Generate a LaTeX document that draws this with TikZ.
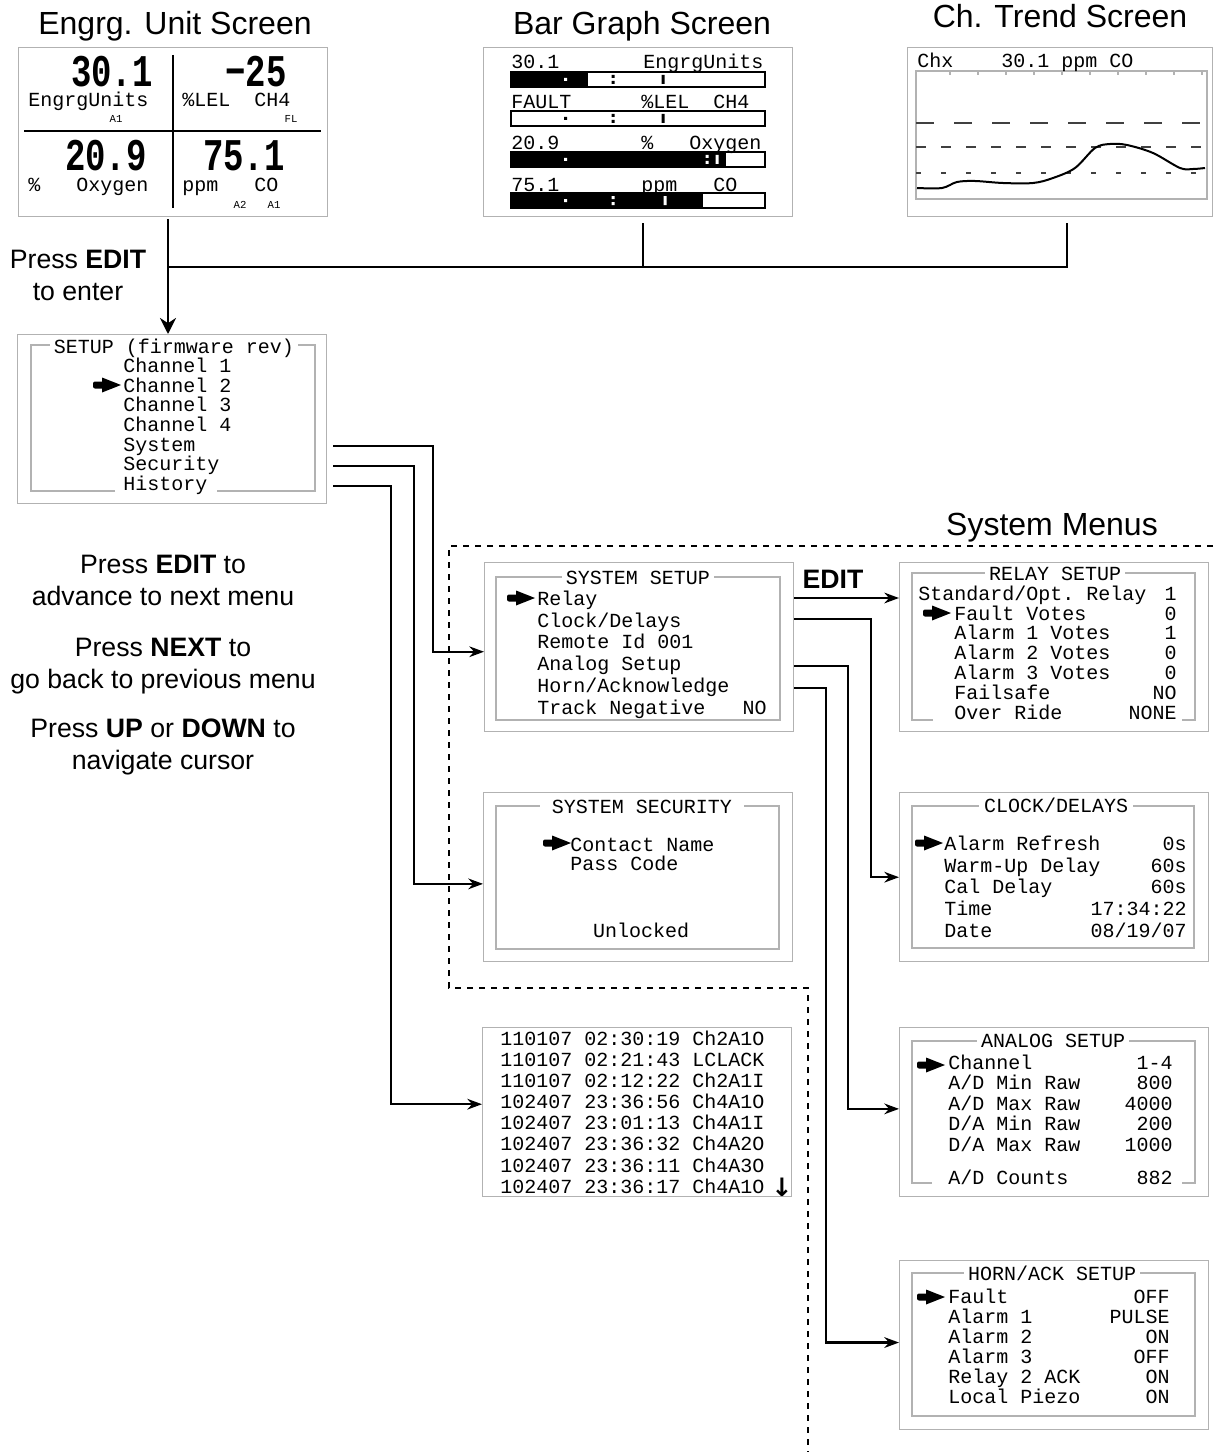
\documentclass[tikz,border=0pt]{standalone}
\usepackage{fontspec}
\setmainfont{Liberation Sans}
\setmonofont{Liberation Mono}
\newfontfamily\symfont{DejaVu Sans}
\usepackage{graphicx}
\usetikzlibrary{
    arrows.meta                       % Stealth tips
}
\newcommand\headfont{\fontsize{24}{28}\selectfont}
\newcommand\notefont{\fontsize{20}{24}\selectfont}
\newcommand\lcdat[1]{\fontsize{15}{#1}\selectfont\ttfamily}
\newcommand\lcd{\lcdat{15}}
\newcommand\tinylcd{\fontsize{8}{8}\selectfont\ttfamily}
\newcommand\bigfont{\fontsize{34}{34}\selectfont\ttfamily\bfseries}
\newcommand\sqz[1]{\scalebox{0.75}[1]{#1}}
\newcommand\firstln{\rule{0pt}{12pt}}
\newcommand\ind{\phantom{Sta}}
\tikzset{
    lcdbox/.style={
        draw=gray!60, line width=0.8pt, anchor=north west,
        inner sep=0pt, minimum width=232pt, minimum height=127pt
    },
    inframe/.style={draw=gray!60, line width=0.8pt},
    menutitle/.style={font=\lcd, fill=white, inner xsep=3pt, inner ysep=0.5pt, anchor=base},
    menutext/.style={align=left, anchor=north west, inner sep=0pt},
    menuvals/.style={align=right, anchor=north east, inner sep=0pt},
    lcdtxt/.style={font=\lcd, inner sep=0pt, anchor=base west},
    tinytxt/.style={font=\tinylcd, inner sep=0pt, anchor=base},
    bignum/.style={font=\bigfont, inner sep=0pt, anchor=base east},
    heading/.style={font=\headfont, inner sep=0pt, anchor=base},
    note/.style={font=\notefont, align=center, anchor=north, inner sep=0pt},
    wire/.style={line width=1.8pt},
    conn/.style={wire, -{Stealth[length=11pt,width=8pt]}},
    menuzone/.style={line width=1.5pt, dash pattern=on 4.5pt off 4.5pt},
    trendlim/.style={line width=1.2pt, draw=black!75},
    selarrow/.pic={
        \fill[rounded corners=1.5pt] (0,-3.5) rectangle (13,3.5);
        \fill (9,-7.5) -- (28,0) -- (9,7.5) -- cycle;
    }
}

\begin{document}
\begin{tikzpicture}[x=0.75pt, y=-0.75pt]
    \useasboundingbox (0,0) rectangle (1213,1452);

    % top screens
    \node[heading] (engrhd)  at (175,35)  {Engrg. Unit Screen};
    \node[heading] (barhd)   at (642,35)  {Bar Graph Screen};
    \node[heading] (trendhd) at (1060,28) {Ch. Trend Screen};
    \node[lcdbox] (engr)  at (18,47)  {};
    \node[lcdbox] (bars)  at (483,47) {};
    \node[lcdbox, minimum width=229pt] (trend) at (907,47) {};

    \draw[line width=1.5pt] (173,55) -- (173,208) (24,131) -- (321,131);
    \node[bignum] (e1) at (153,87)  {\sqz{30.1}};
    \node[bignum] (e2) at (287,87)  {\sqz{−25}};
    \node[bignum] (e3) at (147,171) {\sqz{20.9}};
    \node[bignum] (e4) at (285,171) {\sqz{75.1}};
    \node[lcdtxt] (e1u) at (28,107)  {EngrgUnits};
    \node[lcdtxt] (e2u) at (182,107) {\%LEL~~CH4};
    \node[lcdtxt] (e3u) at (28,191)  {\%~~~Oxygen};
    \node[lcdtxt] (e4u) at (182,191) {ppm~~~CO};
    \node[tinytxt] (e1a) at (116,123) {A1};
    \node[tinytxt] (e2a) at (291,123) {FL};
    \node[tinytxt] (e4a) at (240,208) {A2};
    \node[tinytxt] (e4b) at (274,208) {A1};

    \foreach \y/\fx/\cx/\bx in {72/588/613/663, 111/511/613/663, 152/726/707/717, 193/703/613/665}{
        \fill (511,\y) rectangle (\fx,\y+15);
        \foreach \col/\xa/\xb in {black/\fx/765, white/511/\fx}{
            \begin{scope}
                \clip (\xa,\y) rectangle (\xb,\y+15);
                \fill[\col] (564,\y+6) rectangle ++(3,3)
                    (\cx-1.5,\y+3) rectangle ++(3,3) (\cx-1.5,\y+9) rectangle ++(3,3)
                    (\bx-1.5,\y+3) rectangle ++(3,9);
            \end{scope}
        }
        \draw[line width=0.8pt] (511,\y) rectangle (765,\y+15);
    }
    \node[lcdtxt] (b1l) at (511,69)  {30.1};
    \node[lcdtxt] (b1r) at (643,69)  {EngrgUnits};
    \node[lcdtxt] (b2l) at (511,109) {FAULT};
    \node[lcdtxt] (b2r) at (641,109) {\%LEL~~CH4};
    \node[lcdtxt] (b3l) at (511,150) {20.9};
    \node[lcdtxt] (b3r) at (641,150) {\%~~~Oxygen};
    \node[lcdtxt] (b4l) at (511,191) {75.1};
    \node[lcdtxt] (b4r) at (641,191) {ppm~~~CO};

    \draw[inframe] (916,71) rectangle (1207,199);
    \foreach \t in {0,...,9} \draw[inframe] (950+28*\t,71) -- ++(0,4);
    \draw[trendlim, dash pattern=on 13.5pt off 15pt] (916,123) -- (1207,123);
    \draw[trendlim, dash pattern=on 7.5pt off 11.25pt] (916,147) -- (1207,147);
    \draw[trendlim, dash pattern=on 3.75pt off 15pt] (916,173) -- (1207,173);
    \draw[line width=1.5pt] plot[smooth, tension=0.55] coordinates {(917,188) (942,188) (957,182) (975,181) (1003,183) (1033,183) (1053,178) (1075,168) (1095,148) (1110,144) (1127,145) (1153,153) (1180,168) (1193,169) (1205,168)};
    \node[lcdtxt] (trendhdr) at (917,68) {Chx~~~~30.1 ppm CO};

    % setup menu
    \node[lcdbox] (setup) at (17,334) {};
    \draw[inframe] (115,491) -| (31,345) -| (315,491) -- (217,491);
    \node[menutitle] (setupttl) at (174,353) {SETUP (firmware rev)};
    \node[menutext, font=\lcdat{14.8}] (setupitems) at (123,356) {\firstln Channel 1\\Channel 2\\Channel 3\\Channel 4\\System\\Security\\History};
    \pic at (93,385) {selarrow};

    \coordinate (etap) at (168,219);
    \coordinate (btap) at (643,223);
    \coordinate (ttap) at (1067,223);
    \coordinate (bus)  at (168,267);
    \draw[wire, -{Stealth[length=12pt,width=12pt]}] (etap) -- (etap |- setup.north);
    \draw[wire] (btap) -- (btap |- bus);
    \draw[wire] (ttap) |- (bus);
    \node[note] (editnote) at (78,246) {\strut Press \textbf{EDIT}\\to enter};

    \node[note] (advnote)  at (163,551) {\strut Press \textbf{EDIT} to\\advance to next menu};
    \node[note] (backnote) at (163,634) {\strut Press \textbf{NEXT} to\\go back to previous menu};
    \node[note] (curnote)  at (163,715) {\strut Press \textbf{UP} or \textbf{DOWN} to\\navigate cursor};

    % system menus
    \node[heading] (syshd) at (1052,535) {System Menus};
    \draw[menuzone] (1213,546) -| (449,988) -| (808,1452);

    \node[lcdbox] (syssetup) at (484,562) {};
    \draw[inframe] (496,577) rectangle (780,720);
    \node[menutitle] (systtl) at (638,584) {SYSTEM SETUP};
    \node[menutext, font=\lcdat{16.35}] (sysitems) at (537,589) {\firstln Relay\\Clock/Delays\\Remote Id 001\\Analog Setup\\Horn/Acknowledge\\Track Negative};
    \node[lcdtxt, anchor=base east] (sysneg) at (767,714) {NO};
    \pic at (507,598) {selarrow};

    \node[lcdbox] (relay) at (899,562) {};
    \draw[inframe] (933,720) -| (912,573) -| (1195,720) -- (1182,720);
    \node[menutitle] (relayttl) at (1055,580) {RELAY SETUP};
    \node[menutext, font=\lcdat{14.85}] (relayitems) at (918,584) {\firstln Standard/Opt. Relay\\\ind Fault Votes\\\ind Alarm 1 Votes\\\ind Alarm 2 Votes\\\ind Alarm 3 Votes\\\ind Failsafe\\\ind Over Ride};
    \node[menuvals, font=\lcdat{14.85}] (relayvals) at (1177,584) {\firstln 1\\0\\1\\0\\0\\NO\\NONE};
    \pic at (923,613) {selarrow};
    \node[font=\bfseries\notefont, inner sep=0pt, anchor=base] (editlbl) at (833,588) {EDIT};

    \node[lcdbox] (security) at (483,792) {};
    \draw[inframe] (496,806) rectangle (779,949);
    \node[menutitle, inner xsep=9pt] (secttl) at (642,813) {SYSTEM SECURITY};
    \node[menutext, font=\lcdat{14.25}] (secitems) at (570,835) {\firstln Contact Name\\Pass Code};
    \node[lcdtxt, anchor=base] (seclock) at (641,937) {Unlocked};
    \pic at (543,843) {selarrow};

    \node[lcdbox] (clock) at (899,792) {};
    \draw[inframe] (912,806) rectangle (1194,948);
    \node[menutitle, inner xsep=4pt] (clkttl) at (1056,812) {CLOCK/DELAYS};
    \node[menutext, font=\lcdat{16.3}] (clkitems) at (944,834) {\firstln Alarm Refresh\\Warm-Up Delay\\Cal Delay\\Time\\Date};
    \node[menuvals, font=\lcdat{16.3}] (clkvals) at (1187,834) {\firstln 0s\\60s\\60s\\17:34:22\\08/19/07};
    \pic at (915,843) {selarrow};

    \node[lcdbox] (history) at (482,1027) {};
    \node[menutext, font=\lcdat{15.85}] (histitems) at (500,1029) {\firstln 110107 02:30:19 Ch2A1O\\110107 02:21:43 LCLACK\\110107 02:12:22 Ch2A1I\\102407 23:36:56 Ch4A1O\\102407 23:01:13 Ch4A1I\\102407 23:36:32 Ch4A2O\\102407 23:36:11 Ch4A3O\\102407 23:36:17 Ch4A1O};
    \node[font={\symfont\bfseries\fontsize{19}{19}\selectfont}, inner sep=0pt, anchor=base] (histmore) at (782,1196) {↓};

    \node[lcdbox] (analog) at (899,1027) {};
    \draw[inframe] (932,1183) -| (912,1041) -| (1195,1183) -- (1182,1183);
    \node[menutitle] (anattl) at (1053,1047) {ANALOG SETUP};
    \node[menutext, font=\lcdat{15.4}] (anaitems) at (948,1053) {\firstln Channel\\A/D Min Raw\\A/D Max Raw\\D/A Min Raw\\D/A Max Raw\\[9.3pt]A/D Counts};
    \node[menuvals, font=\lcdat{15.4}] (anavals) at (1173,1053) {\firstln 1-4\\800\\4000\\200\\1000\\[9.3pt]882};
    \pic at (917,1065) {selarrow};

    \node[lcdbox] (horn) at (899,1260) {};
    \draw[inframe] (912,1273) rectangle (1195,1416);
    \node[menutitle] (hornttl) at (1052,1280) {HORN/ACK SETUP};
    \node[menutext, font=\lcdat{15}] (hornitems) at (948,1287) {\firstln Fault\\Alarm 1\\Alarm 2\\Alarm 3\\Relay 2 ACK\\Local Piezo};
    \node[menuvals, font=\lcdat{15}] (hornvals) at (1170,1287) {\firstln OFF\\PULSE\\ON\\OFF\\ON\\ON};
    \pic at (917,1297) {selarrow};

    % connectors
    \coordinate (sysout)  at (333,446);
    \coordinate (secout)  at (333,466);
    \coordinate (histout) at (333,486);
    \draw[conn] (sysout)  -- ++(100,0) |- ([yshift=-3.4pt]syssetup.west);
    \draw[conn] (secout)  -- ++(81,0)  |- ([yshift=-5pt]security.west);
    \draw[conn] (histout) -- ++(58,0)  |- ([yshift=6pt]history.west);

    \coordinate (relayout) at (794,598);
    \coordinate (clkout)   at (794,619);
    \coordinate (anaout)   at (794,666);
    \coordinate (hornout)  at (794,688);
    \draw[conn] (relayout) -- (relayout -| relay.west);
    \draw[conn] (clkout)  -- ++(77,0) |- (clock.west);
    \draw[conn] (anaout)  -- ++(54,0) |- ([yshift=2.5pt]analog.west);
    \draw[conn] (hornout) -- ++(32,0) |- ([yshift=2pt]horn.west);
\end{tikzpicture}
\end{document}
